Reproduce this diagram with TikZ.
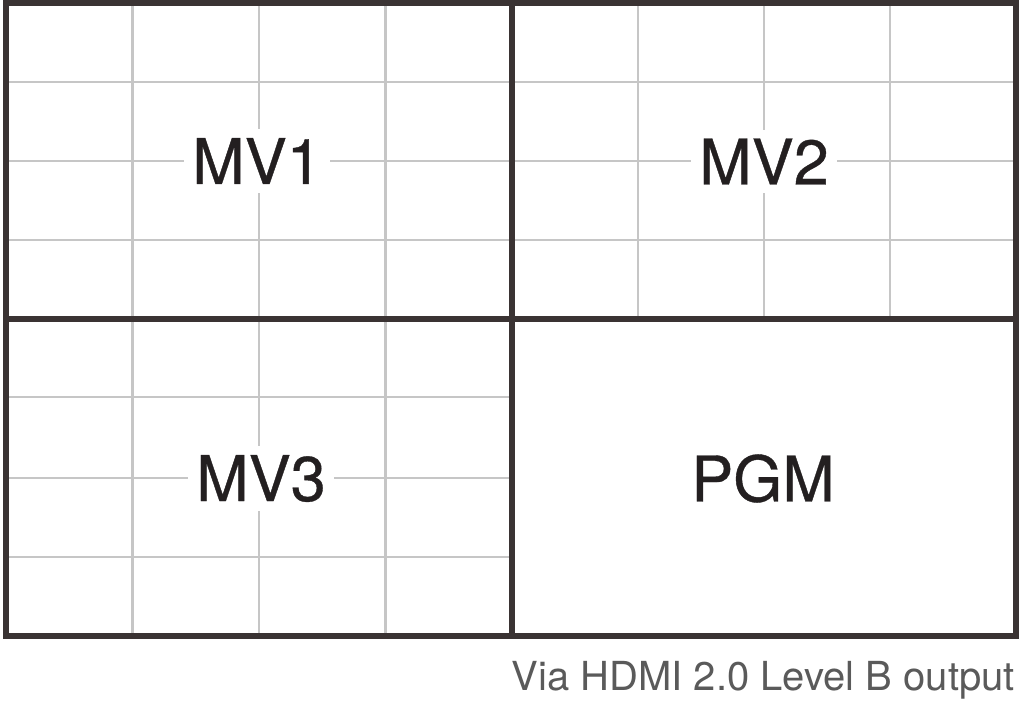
\documentclass[tikz,border=0pt]{standalone}
\usepackage{fontspec}
\setmainfont{TeX Gyre Heros}
\newfontfamily\labelfont[FakeBold=0.6]{TeX Gyre Heros}
\definecolor{framecol}{HTML}{3A3333}
\definecolor{gridcol}{HTML}{C6C6C6}
\definecolor{txtcol}{HTML}{231F20}
\definecolor{notecol}{HTML}{5A5A5A}
\tikzset{
  gridline/.style={draw=gridcol, line width=2.8pt},
  frameline/.style={draw=framecol, line width=5.5pt},
  label/.style={fill=white, text=txtcol, inner xsep=8pt, inner ysep=9pt,
    font=\labelfont\fontsize{63}{63}\selectfont},
  note/.style={text=notecol, inner sep=0pt, font=\fontsize{40}{40}\selectfont}
}
\begin{document}
\begin{tikzpicture}[x=1pt,y=-1pt]
\useasboundingbox (0,0) rectangle (1024,702);
\fill[white] (0,0) rectangle (1024,702);
% grids in MV quadrants
% top-left
\foreach \xx in {132.5,259,385.5} \draw[gridline] (\xx,3) -- (\xx,319);
\foreach \yy in {82,161,240} \draw[gridline] (6,\yy) -- (512,\yy);
% top-right
\foreach \xx in {638,764,890} \draw[gridline] (\xx,3) -- (\xx,319);
\foreach \yy in {82,161,240} \draw[gridline] (512,\yy) -- (1016,\yy);
% bottom-left
\foreach \xx in {132.5,259,385.5} \draw[gridline] (\xx,319) -- (\xx,636);
\foreach \yy in {397,478,557} \draw[gridline] (6,\yy) -- (512,\yy);
% labels
\node[label] (mv1) at (257,161) {MV1};
\node[label] (mv2) at (764,161.5) {MV2};
\node[label] (mv3) at (261,478.5) {MV3};
\node[label, fill=none] (pgm) at (763,478.5) {PGM};
% frame
\draw[frameline] (6,3) rectangle (1016,636);
\draw[frameline] (512,3) -- (512,636);
\draw[frameline] (6,319) -- (1016,319);
% note
\node[note, anchor=base east] (note) at (1015,690) {Via HDMI 2.0 Level B output};
\end{tikzpicture}
\end{document}
